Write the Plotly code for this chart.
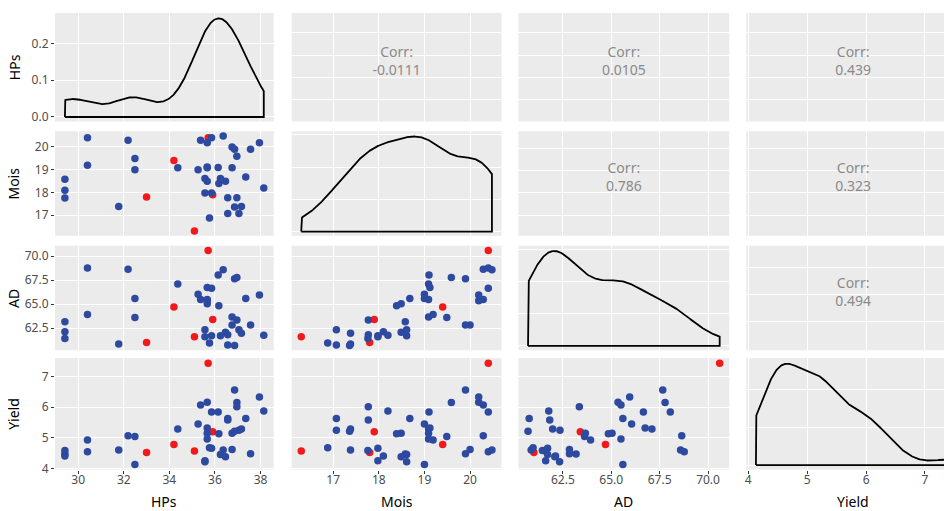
import numpy as np
import plotly.graph_objects as go
from plotly.subplots import make_subplots

# ---------------- data ----------------
variables = ["HPs", "Mois", "AD", "Yield"]

group = ["red"] * 5 + ["blue"] * 40

HPs = [35.7, 34.2, 33.0, 35.9, 35.1,
       29.42, 29.42, 29.42, 30.41, 30.41, 31.78, 32.19, 32.49, 32.49, 34.37,
       35.26, 35.37, 35.56, 35.56, 35.66, 35.66, 35.66, 35.66, 35.76, 35.85,
       35.85, 36.17, 36.14, 36.24, 36.36, 36.46, 36.56, 36.56, 36.75, 36.75,
       36.86, 36.86, 36.96, 36.96, 37.05, 37.16, 37.35, 37.56, 37.95, 38.14]
Mois = [20.4, 19.4, 17.8, 17.9, 16.3,
        18.58, 18.10, 17.76, 20.40, 19.19, 17.38, 20.29, 19.49, 19.00, 19.09,
        19.00, 20.29, 18.61, 17.98, 20.19, 19.12, 19.09, 18.49, 16.88, 20.40,
        17.98, 18.39, 19.10, 18.61, 20.48, 18.49, 17.77, 17.07, 20.00, 19.09,
        19.90, 17.36, 19.59, 17.77, 17.07, 17.38, 18.68, 19.90, 20.19, 18.20]
AD = [70.6, 64.7, 61.0, 63.4, 61.6,
      63.18, 62.12, 61.44, 68.77, 63.93, 60.86, 68.64, 63.62, 65.60, 67.10,
      66.05, 65.50, 62.33, 61.61, 65.35, 66.75, 65.50, 65.04, 60.96, 66.66,
      61.71, 64.85, 68.05, 61.71, 68.58, 62.08, 61.82, 60.76, 62.84, 63.66,
      67.66, 60.70, 67.78, 63.35, 62.35, 61.97, 65.60, 62.84, 65.95, 61.77]
Yield = [7.43, 4.78, 4.52, 5.20, 4.57,
         4.47, 4.41, 4.59, 4.55, 4.93, 4.60, 5.07, 5.04, 4.13, 5.29,
         5.45, 6.07, 4.22, 4.25, 6.16, 5.32, 4.96, 5.15, 4.68, 5.84,
         4.66, 5.13, 5.84, 4.46, 4.60, 4.38, 5.58, 5.63, 4.62, 5.15,
         6.56, 5.21, 6.15, 6.01, 5.25, 5.29, 5.63, 4.48, 6.33, 5.87]

# correlation labels (upper panels)
corr_pairs = [(0, 1), (0, 2), (0, 3), (1, 2), (1, 3), (2, 3)]
corr_labels = ["-0.0111", "0.0105", "0.439", "0.786", "0.323", "0.494"]

x_ticks = [[30, 32, 34, 36, 38], [17, 18, 19, 20], [62.5, 65.0, 67.5, 70.0], [4, 5, 6, 7]]
x_ticktext = [["30", "32", "34", "36", "38"], ["17", "18", "19", "20"],
              ["62.5", "65.0", "67.5", "70.0"], ["4", "5", "6", "7"]]
density_ticks = [[0.0, 0.1, 0.2], None, None, None]
density_ticktext = [["0.0", "0.1", "0.2"], None, None, None]
density_dtick = [0.1, 0.1, 0.05, 0.2]

data = {"HPs": HPs, "Mois": Mois, "AD": AD, "Yield": Yield}
colors = {"red": "#F2191C", "blue": "#2D49A0"}

# ---------------- layout geometry (styling) ----------------
W, H = 952, 511
col_px = [(46, 265), (283, 493), (510, 721), (738, 952)]
row_px = [(5, 115), (125, 231), (241, 347), (355, 468)]
upper_grid = {0: [0.0, 0.206, 0.409, 0.612, 0.818],
              1: [0.198, 0.415, 0.623, 0.833],
              2: [0.007, 0.271, 0.531, 0.795]}

FONT = "Noto Sans, Open Sans, DejaVu Sans, sans-serif"
TICK_COLOR = "#4D4D4D"


def rng(v):
    v = np.asarray(v, float)
    lo, hi = v.min(), v.max()
    d = hi - lo
    return [lo - 0.05 * d, hi + 0.05 * d]


def kde_nrd0(v, n=512):
    v = np.asarray(v, float)
    q1, q3 = np.percentile(v, [25, 75])
    s = min(v.std(ddof=1), (q3 - q1) / 1.34)
    bw = 0.9 * s * len(v) ** (-0.2)
    grid = np.linspace(v.min(), v.max(), n)
    dens = np.exp(-0.5 * ((grid[:, None] - v[None, :]) / bw) ** 2).sum(1) / (len(v) * bw * np.sqrt(2 * np.pi))
    return grid, dens


fig = make_subplots(rows=4, cols=4)

ranges = [rng(data[v]) for v in variables]
g = np.array(group)

for r in range(4):
    for c in range(4):
        xd = [col_px[c][0] / W, col_px[c][1] / W]
        yd = [1 - row_px[r][1] / H, 1 - row_px[r][0] / H]
        xaxis_kw = dict(domain=xd, range=ranges[c], autorange=False,
                        tickvals=x_ticks[c], ticktext=x_ticktext[c],
                        showgrid=True, gridcolor="white", gridwidth=1.2,
                        zeroline=False, showline=False,
                        showticklabels=(r == 3), ticks="outside" if r == 3 else "",
                        ticklen=3, tickcolor="#333333", ticklabelstandoff=-4,
                        tickfont=dict(family=FONT, size=12, color=TICK_COLOR))
        yaxis_kw = dict(domain=yd, zeroline=False, showline=False,
                        showgrid=True, gridcolor="white", gridwidth=1.2,
                        ticklen=3, tickcolor="#333333",
                        tickfont=dict(family=FONT, size=12, color=TICK_COLOR))
        if r > c:
            vx, vy = variables[c], variables[r]
            for grp in ["red", "blue"]:
                m = g == grp
                fig.add_trace(go.Scatter(
                    x=np.asarray(data[vx])[m], y=np.asarray(data[vy])[m],
                    mode="markers", marker=dict(color=colors[grp], size=7.5, line=dict(width=0)),
                    showlegend=False, hoverinfo="skip"), row=r + 1, col=c + 1)
            yaxis_kw.update(range=ranges[r], autorange=False,
                            tickvals=x_ticks[r], ticktext=x_ticktext[r],
                            showticklabels=(c == 0), ticks="outside" if c == 0 else "")
        elif r == c:
            gx, dens = kde_nrd0(data[variables[c]])
            px = np.concatenate([[gx[0]], gx, [gx[-1], gx[0]]])
            py = np.concatenate([[0], dens, [0, 0]])
            fig.add_trace(go.Scatter(x=px, y=py, mode="lines",
                                     line=dict(color="black", width=1.8),
                                     showlegend=False, hoverinfo="skip"),
                          row=r + 1, col=c + 1)
            p = dens.max()
            yaxis_kw.update(range=[-0.045 * p, 1.055 * p], autorange=False)
            if density_ticks[r] is not None:
                yaxis_kw.update(tickvals=density_ticks[r], ticktext=density_ticktext[r])
            else:
                yaxis_kw.update(tick0=0, dtick=density_dtick[r])
            yaxis_kw.update(showticklabels=(c == 0), ticks="outside" if c == 0 else "")
        else:
            k = corr_pairs.index((r, c))
            yaxis_kw.update(range=[0, 1], autorange=False, tickvals=upper_grid[r],
                            showticklabels=False, ticks="")
            fig.add_trace(go.Scatter(
                x=[sum(ranges[c]) / 2], y=[0.545], mode="text",
                text=["Corr:<br>" + corr_labels[k]], textposition="middle center",
                textfont=dict(family=FONT, size=14, color="#8A8A8A"),
                showlegend=False, hoverinfo="skip"), row=r + 1, col=c + 1)
        fig.update_xaxes(**xaxis_kw, row=r + 1, col=c + 1)
        fig.update_yaxes(**yaxis_kw, row=r + 1, col=c + 1)

# axis titles
for i, v in enumerate(variables):
    cx = (col_px[i][0] + col_px[i][1]) / 2 / W
    fig.add_annotation(x=cx, y=1 - 500 / H, xref="paper", yref="paper", text=v,
                       xanchor="center", yanchor="middle",
                       showarrow=False, font=dict(family=FONT, size=14, color="black"))
    cy = 1 - (row_px[i][0] + row_px[i][1]) / 2 / H
    fig.add_annotation(x=5 / W, y=cy, xref="paper", yref="paper", text=v, textangle=-90,
                       xanchor="center", yanchor="middle",
                       showarrow=False, font=dict(family=FONT, size=14, color="black"))

fig.update_layout(width=W, height=H, autosize=False,
                  margin=dict(l=0, r=0, t=0, b=0),
                  paper_bgcolor="white", plot_bgcolor="#EBEBEB",
                  showlegend=False)

fig.write_html("out.html")
